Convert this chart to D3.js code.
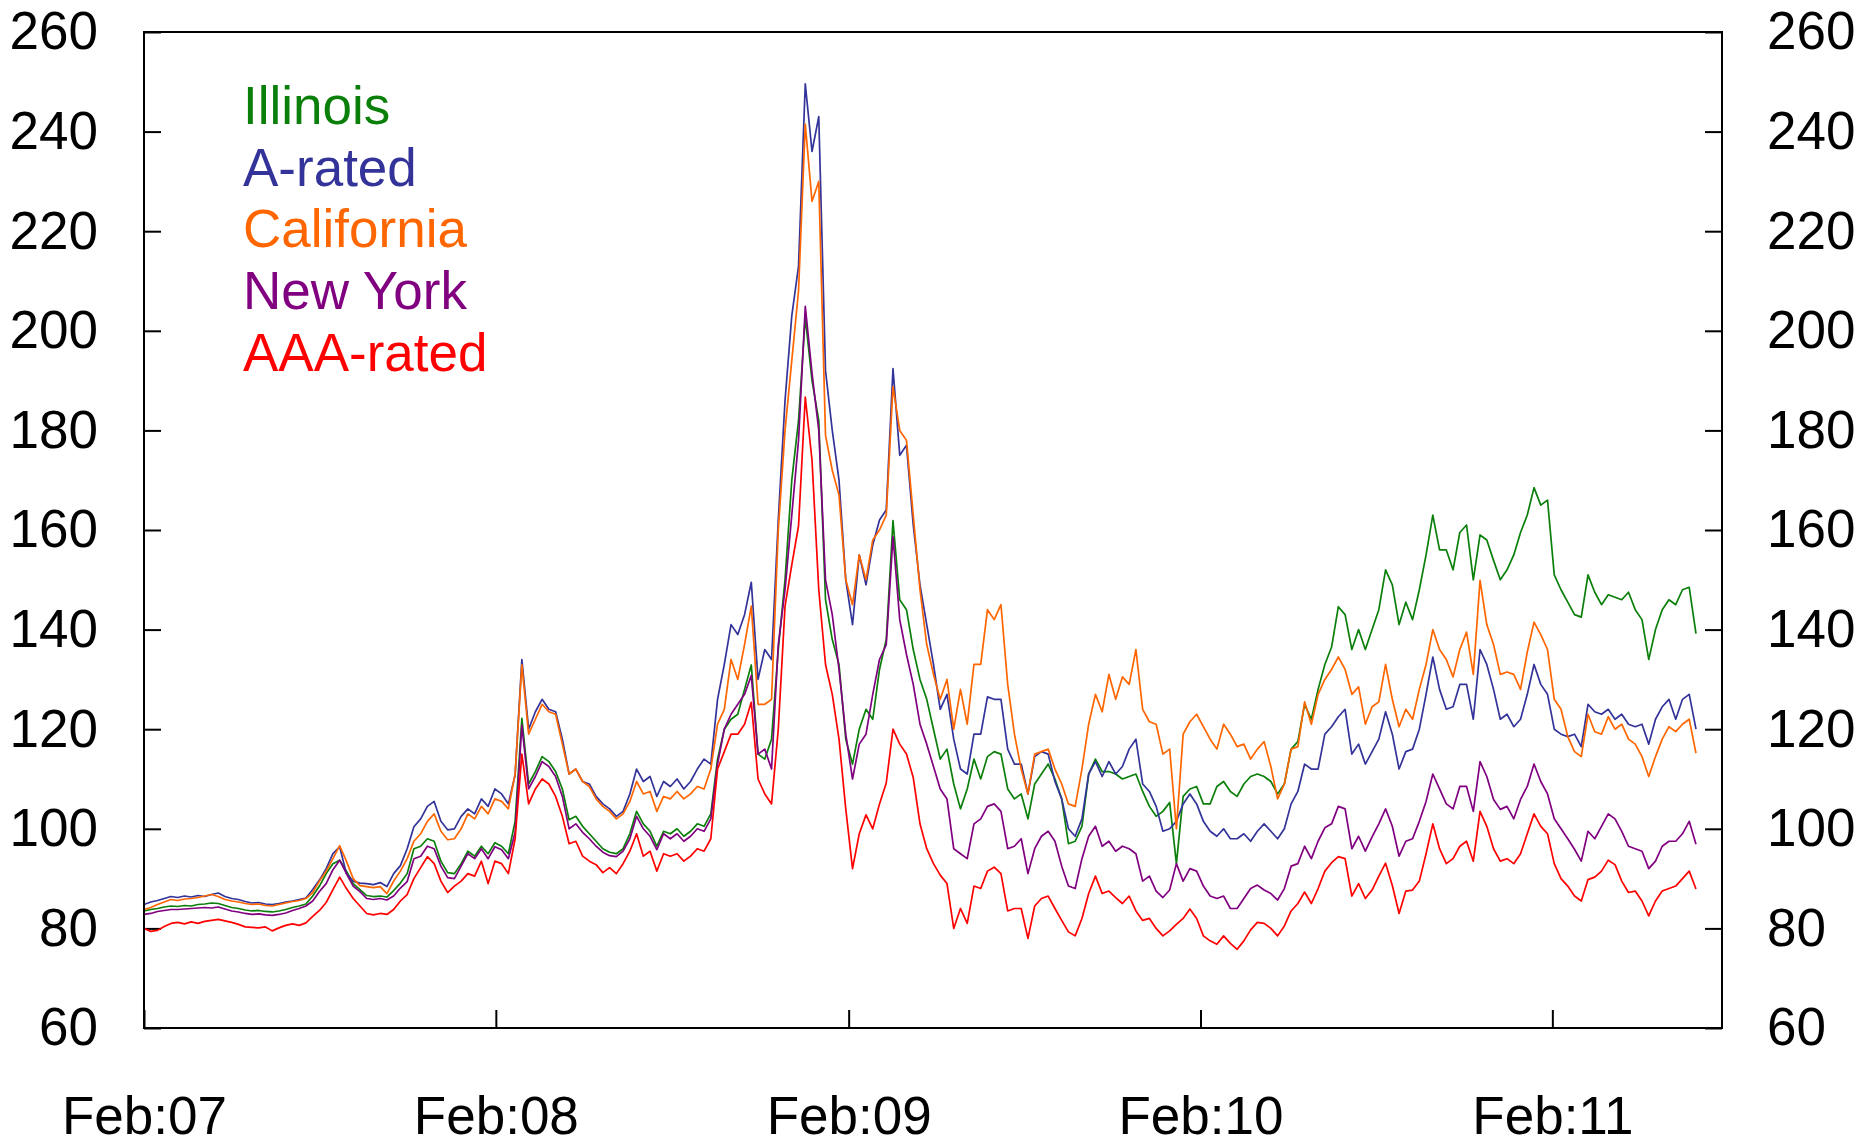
<!DOCTYPE html>
<html>
<head>
<meta charset="utf-8">
<script src="https://cdn.jsdelivr.net/npm/d3@7"></script>
<style>
  body { margin: 0; background: #fff; }
  svg text { font-family: "Liberation Sans", Arial, Helvetica, sans-serif; }
</style>
</head>
<body>
<svg id="chart" width="1865" height="1146"></svg>
<script>
// Weekly municipal bond spread indices, one observation per week starting 1 Feb 2007.
const firstWeek = new Date(2007, 1, 1);

const seriesNames  = ["Illinois", "A-rated", "California", "New York", "AAA-rated"];
const seriesColors = ["#0a7f0a", "#333399", "#ff6600", "#800080", "#ff0000"];

const illinois = [
  83.5, 83.8, 84.0, 84.3, 84.5, 84.4, 84.6, 84.5, 84.8, 84.9,
  85.1, 85.0, 84.6, 84.2, 84.0, 83.7, 83.5, 83.6, 83.4, 83.3,
  83.5, 83.8, 84.2, 84.5, 84.9, 86.5, 88.5, 91.0, 93.0, 93.7,
  91.5, 89.0, 87.8, 86.6, 86.4, 86.5, 86.3, 87.6, 89.1, 91.0,
  96.0, 96.5, 98.0, 97.5, 93.5, 91.2, 91.0, 93.0, 95.5, 94.5,
  96.5, 95.0, 97.2, 96.5, 95.0, 101.5, 122.2, 109.0, 111.5, 114.5,
  113.5, 111.5, 108.0, 101.8, 102.5, 100.5, 99.0, 97.5, 96.0, 95.3,
  95.0, 96.0, 99.0, 103.5, 101.0, 99.5, 96.5, 99.5, 99.0, 100.0,
  98.5, 99.5, 101.0, 100.5, 103.0, 114.0, 120.0, 122.0, 123.0, 128.0,
  132.9, 115.0, 114.0, 118.0, 136.0, 150.0, 170.0, 182.0, 202.8, 190.0,
  182.0, 146.0, 138.0, 133.0, 118.0, 113.0, 120.0, 124.0, 122.0, 132.0,
  138.0, 161.9, 146.0, 144.0, 136.0, 130.0, 126.0, 120.0, 114.0, 116.0,
  109.0, 104.0, 108.0, 114.0, 110.0, 114.5, 115.5, 115.0, 108.0, 106.0,
  107.0, 102.0, 109.0, 111.0, 113.0, 110.0, 106.0, 97.0, 97.5, 100.5,
  111.0, 114.0, 111.5, 111.5, 111.0, 110.0, 110.5, 111.0, 107.5, 104.5,
  102.5, 103.5, 105.3, 93.0, 106.5, 108.0, 108.5, 105.0, 105.0, 108.5,
  109.5, 107.5, 106.5, 109.0, 110.5, 111.0, 110.5, 109.5, 107.0, 109.0,
  116.0, 117.5, 125.0, 122.0, 128.0, 133.0, 136.5, 144.6, 143.0, 136.0,
  140.0, 136.0, 140.0, 144.0, 152.0, 149.0, 141.0, 145.5, 142.0, 148.0,
  155.0, 163.0, 156.0, 156.0, 152.0, 159.5, 161.0, 150.0, 159.0, 158.0,
  153.9, 150.0, 152.0, 155.0, 159.5, 163.0, 168.5, 165.0, 166.0, 151.0,
  148.0, 145.5, 143.0, 142.5, 151.0, 147.5, 145.0, 147.0, 146.5, 146.0,
  147.5, 144.0, 142.0, 134.0, 140.0, 144.0, 146.0, 145.0, 148.0, 148.5, 139.2
];

const aRated = [
  84.8, 85.3, 85.6, 86.0, 86.4, 86.2, 86.5, 86.3, 86.6, 86.4,
  86.8, 87.1, 86.4, 86.0, 85.8, 85.4, 85.1, 85.2, 84.9, 84.8,
  85.0, 85.3, 85.5, 85.8, 86.1, 87.8, 89.7, 92.0, 95.0, 96.4,
  91.0, 89.5, 89.1, 89.0, 88.8, 89.2, 88.4, 91.0, 92.6, 96.0,
  100.4, 102.0, 104.5, 105.5, 101.5, 99.8, 100.0, 102.5, 104.0, 103.0,
  106.0, 104.5, 108.0, 107.0, 105.0, 110.8, 134.0, 120.0, 123.5, 126.0,
  124.0, 123.5, 118.0, 111.0, 112.0, 109.5, 109.0, 106.5, 105.0, 104.0,
  102.5, 103.5, 107.0, 112.0, 109.5, 110.5, 106.5, 109.5, 108.5, 110.0,
  108.0, 109.5, 112.0, 114.0, 113.0, 126.0, 133.0, 141.0, 139.0, 143.0,
  149.5, 130.0, 136.0, 134.0, 162.0, 186.0, 203.0, 213.0, 249.6, 236.0,
  243.0, 192.0, 180.0, 170.0, 150.0, 141.0, 155.0, 149.0, 157.0, 162.0,
  164.0, 192.4, 175.0, 177.0, 161.0, 149.0, 141.0, 133.0, 124.0, 127.0,
  118.0, 112.0, 111.0, 119.0, 119.0, 126.5, 126.0, 126.0, 116.0, 113.0,
  113.0, 107.0, 114.5, 115.5, 115.0, 109.5, 106.0, 100.0, 98.5, 102.0,
  111.0, 113.5, 110.5, 113.5, 111.0, 112.5, 116.0, 118.0, 109.0, 107.5,
  104.5, 99.5, 100.0, 101.5, 105.0, 107.0, 105.0, 101.5, 99.5, 98.5,
  100.0, 98.0, 98.0, 99.0, 97.5, 99.5, 101.0, 99.5, 98.0, 100.0,
  105.0, 107.5, 113.0, 112.0, 112.0, 119.0, 120.5, 122.5, 124.0, 115.0,
  117.0, 113.0, 115.5, 118.0, 123.5, 119.0, 112.0, 115.5, 116.0, 120.0,
  127.0, 134.5, 128.0, 124.0, 124.5, 129.0, 129.0, 122.0, 136.0, 133.0,
  128.0, 122.0, 123.0, 120.5, 122.0, 127.0, 133.0, 129.0, 127.0, 120.0,
  119.0, 118.5, 119.0, 116.5, 125.0, 123.5, 123.0, 124.0, 122.0, 123.0,
  121.0, 120.5, 121.0, 117.0, 122.0, 124.5, 126.0, 122.0, 126.0, 127.0, 120.0
];

const california = [
  83.8, 84.2, 84.8, 85.3, 85.8, 85.6, 85.9, 86.0, 86.2, 86.5,
  86.8, 86.4, 85.8, 85.5, 85.3, 85.0, 84.8, 84.9, 84.6, 84.5,
  84.8, 85.1, 85.4, 85.6, 86.0, 87.2, 89.5, 91.5, 94.0, 96.6,
  93.5, 90.0, 88.6, 88.4, 88.2, 88.4, 87.0, 89.5, 91.5, 94.0,
  97.5, 99.0, 101.5, 103.0, 99.5, 97.8, 98.0, 100.0, 103.0, 102.0,
  104.5, 103.0, 106.0, 105.5, 104.0, 111.0, 132.9, 119.0, 122.0, 125.0,
  123.5, 123.0, 117.0, 111.0, 112.0, 109.5, 108.5, 106.0, 104.5, 103.5,
  102.0, 103.0, 105.5, 109.5, 107.0, 107.5, 103.5, 106.5, 106.0, 107.5,
  106.0, 107.0, 108.5, 108.0, 112.0, 121.0, 124.0, 134.0, 130.0, 137.0,
  144.7, 125.0, 125.0, 126.0, 160.0, 180.0, 194.0, 208.0, 241.5, 226.0,
  230.0, 179.0, 172.0, 167.0, 150.0, 145.0, 155.0, 150.0, 158.0, 160.0,
  163.0, 188.8, 180.0, 178.0, 163.0, 148.0, 137.0, 131.0, 126.0, 130.0,
  120.0, 128.0, 121.0, 133.0, 133.0, 144.0, 142.0, 145.0, 129.0, 119.0,
  112.0, 107.0, 115.0, 115.5, 116.0, 112.0, 109.0, 105.0, 104.5, 112.0,
  121.0, 127.0, 123.5, 131.0, 126.0, 130.5, 129.0, 136.0, 124.0, 121.5,
  121.0, 115.0, 116.0, 100.0, 119.0, 121.5, 123.0, 120.5, 118.0, 116.0,
  121.0, 119.0, 116.5, 117.0, 114.0, 116.0, 117.5, 112.5, 106.0, 109.0,
  116.0, 116.5, 125.5, 121.0, 127.0, 130.0, 132.0, 134.5, 132.0, 127.0,
  128.5, 121.0, 124.5, 125.5, 133.0, 126.0, 120.5, 124.0, 122.0, 128.0,
  133.0, 140.0, 136.0, 134.0, 130.5, 136.0, 139.5, 131.0, 149.9, 141.0,
  137.0, 131.0, 131.5, 131.0, 128.0, 135.5, 141.5, 139.0, 136.0, 126.0,
  124.0, 118.5, 115.5, 114.5, 123.0, 119.5, 119.0, 122.5, 120.0, 121.0,
  118.0, 117.0, 114.5, 110.5, 114.5, 118.0, 120.5, 119.5, 121.0, 122.0, 115.2
];

const newYork = [
  82.8, 83.0, 83.4, 83.6, 83.8, 83.8, 83.9, 84.0, 84.1, 84.2,
  84.1, 84.3, 83.9, 83.5, 83.3, 83.0, 82.8, 82.9, 82.7, 82.6,
  82.8, 83.1, 83.6, 84.0, 84.5, 85.5, 87.4, 89.0, 91.8, 93.7,
  91.0, 88.5, 87.4, 86.0, 85.8, 86.0, 85.7, 86.5, 88.1, 89.4,
  94.0, 94.5, 96.5, 96.0, 92.5, 90.2, 90.0, 92.5, 95.0, 94.0,
  96.0, 94.0, 96.4, 95.8, 94.0, 99.3, 120.8, 108.0, 110.5, 113.5,
  112.5, 110.5, 106.5, 100.0, 101.0, 99.3, 98.0, 96.5, 95.3, 94.6,
  94.4, 95.5, 98.0, 102.5, 100.0, 98.5, 95.8, 99.0, 98.0, 99.0,
  97.5, 98.5, 100.0, 99.5, 102.0, 113.0, 120.0, 123.0, 125.0, 127.0,
  130.8, 115.0, 116.0, 112.0, 137.0, 148.0, 163.0, 178.0, 204.9, 191.5,
  180.0, 150.0, 143.0, 132.0, 119.0, 110.0, 117.0, 119.0, 127.0, 134.0,
  137.0, 158.7, 142.0, 135.0, 129.0, 121.0, 117.0, 112.5, 108.0, 106.0,
  96.0, 95.0, 94.0, 101.0, 102.0, 104.5, 105.0, 103.5, 96.0, 96.5,
  98.0, 91.0, 96.0, 98.5, 99.5, 97.5, 92.5, 88.5, 88.0, 94.0,
  98.5, 100.5, 96.5, 97.5, 95.5, 96.5, 96.0, 95.0, 89.5, 90.5,
  87.5, 86.2, 87.7, 93.0, 89.5, 92.0, 91.5, 88.5, 86.5, 86.0,
  86.5, 84.0, 84.0, 86.0, 88.0, 88.7, 87.7, 87.0, 85.7, 88.0,
  92.5, 93.0, 96.5, 94.0, 97.5, 100.2, 101.0, 104.5, 104.0, 96.0,
  98.5, 95.5, 98.4, 101.0, 104.0, 100.5, 94.5, 97.5, 98.0, 101.5,
  105.5, 111.0, 108.0, 105.0, 104.0, 108.5, 108.5, 103.5, 113.5, 110.5,
  105.9, 103.9, 104.5, 102.0, 105.9, 108.5, 113.0, 109.5, 107.0, 102.0,
  100.0, 98.0, 95.9, 93.5, 99.5, 98.0, 100.5, 103.0, 102.0, 99.5,
  96.5, 96.0, 95.5, 92.0, 93.5, 96.5, 97.5, 97.5, 99.0, 101.5, 96.9
];

const aaaRated = [
  80.0, 79.4, 79.6, 80.4, 81.0, 81.2, 80.9, 81.3, 81.0, 81.4,
  81.6, 81.8, 81.5, 81.2, 80.8, 80.3, 80.2, 80.1, 80.3, 79.5,
  80.1, 80.6, 80.9, 80.6, 81.1, 82.4, 83.6, 85.2, 87.8, 90.3,
  88.0, 86.0, 84.5, 83.0, 82.7, 83.0, 82.8, 83.8, 85.5, 86.8,
  90.0, 92.2, 94.4, 93.0, 89.5, 87.2, 88.5, 89.5, 91.0, 90.5,
  93.5, 89.0, 93.5, 93.0, 91.0, 98.0, 115.0, 105.0, 108.0, 110.0,
  109.0, 106.5, 102.5, 97.0, 97.5, 94.5, 93.5, 92.8, 91.2, 92.2,
  91.0, 93.0, 95.5, 99.0, 94.5, 95.5, 91.5, 95.0, 94.5, 95.0,
  93.5, 94.5, 96.0, 95.5, 98.0, 112.0, 115.5, 119.0, 119.0, 121.0,
  125.4, 110.0, 107.0, 105.0, 120.0, 144.7, 153.0, 160.8, 186.7, 174.0,
  148.0, 133.0, 127.0, 118.0, 104.0, 92.0, 99.0, 102.8, 100.0, 105.0,
  109.2, 120.0, 117.0, 115.0, 110.3, 101.0, 96.0, 93.0, 90.7, 89.0,
  80.0, 84.0, 81.0, 88.5, 88.0, 91.5, 92.3, 91.0, 83.5, 84.0,
  84.0, 78.0, 84.5, 86.0, 86.5, 84.0, 81.6, 79.3, 78.5, 82.0,
  87.0, 90.5, 87.0, 87.5, 86.2, 85.0, 86.5, 83.5, 81.6, 82.0,
  80.0, 78.5, 79.5, 80.8, 82.0, 83.9, 82.0, 78.5, 77.5, 76.8,
  78.5, 77.0, 75.8, 77.5, 79.7, 81.2, 81.0, 80.0, 78.5, 80.5,
  83.5, 85.0, 87.3, 85.0, 88.0, 91.5, 93.2, 94.4, 94.0, 86.5,
  89.0, 86.0, 87.7, 90.5, 93.1, 88.6, 83.0, 87.5, 87.7, 89.5,
  95.0, 101.0, 96.0, 93.0, 94.0, 96.5, 97.5, 93.5, 103.5, 100.5,
  96.0, 93.5, 94.0, 93.0, 95.0, 99.0, 103.0, 100.5, 99.0, 93.0,
  90.0, 88.5, 86.5, 85.5, 89.8, 90.3, 91.5, 93.7, 92.8, 89.5,
  87.2, 87.5, 85.5, 82.5, 85.5, 87.5, 88.0, 88.5, 90.0, 91.5, 87.9
];

const yTicks = [60, 80, 100, 120, 140, 160, 180, 200, 220, 240, 260];
const xTickDates  = [new Date(2007, 1, 1), new Date(2008, 1, 1), new Date(2009, 1, 1),
                     new Date(2010, 1, 1), new Date(2011, 1, 1)];
const xTickLabels = ["Feb:07", "Feb:08", "Feb:09", "Feb:10", "Feb:11"];

const seriesValues = [illinois, aRated, california, newYork, aaaRated];

// ---- layout ----
const svg = d3.select("#chart");
const plot = { left: 144, right: 1722, top: 32, bottom: 1028 };
const fontSize = 53;

const x = d3.scaleTime()
  .domain([new Date(2007, 1, 1), new Date(2011, 6, 27)])
  .range([plot.left, plot.right]);
const y = d3.scaleLinear()
  .domain([60, 260])
  .range([plot.bottom, plot.top]);

const weekDate = i => d3.timeDay.offset(firstWeek, 7 * i);

// ---- axes (ticks point inward) ----
function styleAxis(g) {
  g.select(".domain").remove();
  g.selectAll(".tick line").attr("stroke", "#000").attr("stroke-width", 2);
  g.selectAll(".tick text").attr("fill", "#000").attr("font-size", fontSize)
    .attr("font-family", '"Liberation Sans", Arial, sans-serif');
}

svg.append("g")
  .attr("transform", `translate(${plot.left},0)`)
  .call(d3.axisLeft(y).tickValues(yTicks).tickSize(-17).tickPadding(46).tickFormat(d3.format("d")))
  .call(styleAxis);

svg.append("g")
  .attr("transform", `translate(${plot.right},0)`)
  .call(d3.axisRight(y).tickValues(yTicks).tickSize(-17).tickPadding(45).tickFormat(d3.format("d")))
  .call(styleAxis);

svg.append("g")
  .attr("transform", `translate(0,${plot.bottom})`)
  .call(d3.axisBottom(x).tickValues(xTickDates).tickSize(-18).tickPadding(68)
    .tickFormat((d, i) => xTickLabels[i]))
  .call(styleAxis);

// ---- series lines ----
const line = d3.line()
  .x((d, i) => x(weekDate(i)))
  .y(d => y(d));

svg.append("g")
  .selectAll("path")
  .data(seriesValues)
  .join("path")
  .attr("d", d => line(d))
  .attr("fill", "none")
  .attr("stroke", (d, i) => seriesColors[i])
  .attr("stroke-width", 1.7)
  .attr("stroke-linejoin", "round");

// ---- frame ----
svg.append("rect")
  .attr("x", plot.left).attr("y", plot.top)
  .attr("width", plot.right - plot.left).attr("height", plot.bottom - plot.top)
  .attr("fill", "none").attr("stroke", "#000").attr("stroke-width", 2);

// ---- legend ----
svg.append("g")
  .selectAll("text")
  .data(seriesNames)
  .join("text")
  .attr("x", 243)
  .attr("y", (d, i) => 124 + i * 61.7)
  .attr("font-size", fontSize)
  .attr("fill", (d, i) => seriesColors[i])
  .text(d => d);
</script>
</body>
</html>
